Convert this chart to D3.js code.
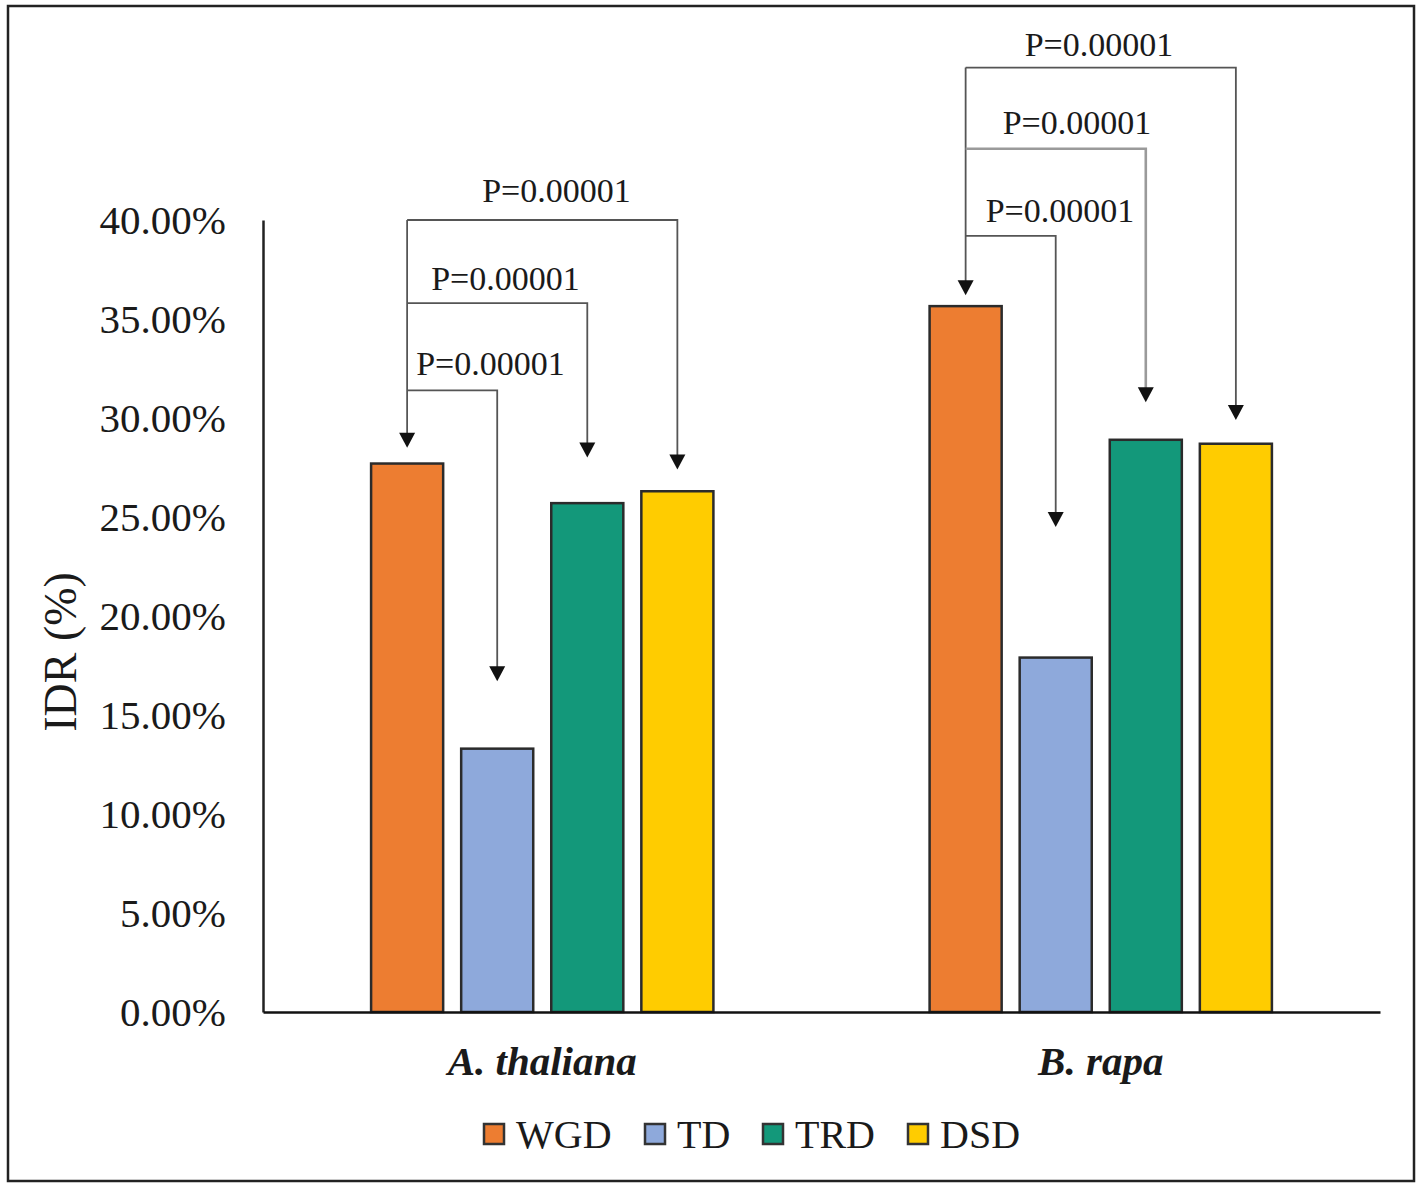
<!DOCTYPE html>
<html>
<head>
<meta charset="utf-8">
<script src="https://cdn.jsdelivr.net/npm/d3@7/dist/d3.min.js"></script>
<style>
  html, body { margin: 0; padding: 0; background: #fff; }
  svg { display: block; }
  text { font-family: "Liberation Serif", "Times New Roman", serif; fill: #1a1a1a; }
</style>
</head>
<body>
<svg id="chart" width="1421" height="1184"></svg>
<script>
// ---------- data ----------
const categories = ["A. thaliana", "B. rapa"];
const seriesNames = ["WGD", "TD", "TRD", "DSD"];
const seriesColors = ["#ED7D31", "#8EA9DB", "#13987A", "#FFCC00"];
const valuesWGD = [27.7, 35.65];
const valuesTD  = [13.3, 17.9];
const valuesTRD = [25.7, 28.9];
const valuesDSD = [26.3, 28.7];
const yTicks = [0, 5, 10, 15, 20, 25, 30, 35, 40];
const yTickLabels = ["0.00%", "5.00%", "10.00%", "15.00%", "20.00%", "25.00%", "30.00%", "35.00%", "40.00%"];
// significance annotations (values in % units)
const pLabel = "P=0.00001";
const bracketTargets = ["TD", "TRD", "DSD"];          // compared with WGD
const bracketLevelsA = [31.4, 35.8, 40.0];
const bracketLevelsB = [39.2, 43.6, 47.7];
const arrowTipsA = [28.5, 16.7, 28.0, 27.4];           // WGD, TD, TRD, DSD
const arrowTipsB = [36.2, 24.5, 30.8, 29.9];
const labelOffsetsA = [9, 24, 75];                      // label start offset from WGD line (px)
const labelOffsetsB = [20, 37, 59];
const labelRaiseA = [15, 13, 18];                       // label baseline above bracket (px)
const labelRaiseB = [14, 15, 12];

const seriesValues = [valuesWGD, valuesTD, valuesTRD, valuesDSD];
const bracketLevels = [bracketLevelsA, bracketLevelsB];
const arrowTips = [arrowTipsA, arrowTipsB];
const labelOffsets = [labelOffsetsA, labelOffsetsB];
const labelRaise = [labelRaiseA, labelRaiseB];

// ---------- layout ----------
const svg = d3.select("#chart");
const plot = { left: 263, right: 1380, top: 220, bottom: 1012 };

// outer border
svg.append("rect").attr("x", 8).attr("y", 6).attr("width", 1406).attr("height", 1175)
  .attr("fill", "none").attr("stroke", "#222").attr("stroke-width", 2.5);

const x0 = d3.scaleBand().domain(categories).range([plot.left, plot.right]).padding(0);
const x1 = d3.scaleBand().domain(seriesNames).range([0, x0.bandwidth()])
  .paddingInner(0.2).paddingOuter(1.2);
const y = d3.scaleLinear().domain([0, 40]).range([plot.bottom, plot.top]);
const color = d3.scaleOrdinal().domain(seriesNames).range(seriesColors);

// y axis
const yAxis = d3.axisLeft(y).tickValues(yTicks)
  .tickFormat((d, i) => yTickLabels[i]).tickSize(0).tickPadding(37);
const gy = svg.append("g").attr("transform", `translate(${plot.left},0)`).call(yAxis);
gy.select(".domain").attr("stroke", "#222").attr("stroke-width", 2.5);
gy.selectAll("text").style("font-family", "Liberation Serif").style("font-size", "41px")
  .attr("fill", "#1a1a1a").attr("dy", "0.33em");

// bars
const flat = [];
categories.forEach((c, ci) => seriesNames.forEach((s, si) =>
  flat.push({ cat: c, ci, series: s, si, value: seriesValues[si][ci] })));

svg.append("g").selectAll("rect").data(flat).join("rect")
  .attr("x", d => x0(d.cat) + x1(d.series))
  .attr("y", d => y(d.value))
  .attr("width", x1.bandwidth())
  .attr("height", d => y(0) - y(d.value))
  .attr("fill", d => color(d.series))
  .attr("stroke", "#2b2b2b").attr("stroke-width", 2.5);

// x axis
const xAxis = d3.axisBottom(x0).tickSize(0).tickPadding(34);
const gx = svg.append("g").attr("transform", `translate(0,${plot.bottom})`).call(xAxis);
gx.select(".domain").attr("stroke", "#111").attr("stroke-width", 2.5);
gx.selectAll("text").style("font-family", "Liberation Serif").style("font-size", "41px")
  .style("font-weight", "bold").style("font-style", "italic").attr("fill", "#1a1a1a")
  .attr("dy", "0.7em");

// y axis title
svg.append("text")
  .attr("transform", `translate(76,652) rotate(-90)`)
  .attr("text-anchor", "middle")
  .style("font-size", "46px")
  .text("IDR (%)");

// significance brackets
const ann = svg.append("g");
const cx = (cat, s) => x0(cat) + x1(s) + x1.bandwidth() / 2;
const arrowH = 15, arrowW = 16;
function arrowHead(xp, tipVal) {
  const ty = y(tipVal);
  ann.append("path")
    .attr("d", `M${xp - arrowW / 2},${ty - arrowH} L${xp + arrowW / 2},${ty - arrowH} L${xp},${ty} Z`)
    .attr("fill", "#111");
}
categories.forEach((c, ci) => {
  const xW = cx(c, "WGD");
  const levels = bracketLevels[ci];
  const tips = arrowTips[ci];
  // shared vertical from WGD
  ann.append("line").attr("x1", xW).attr("x2", xW)
    .attr("y1", y(d3.max(levels))).attr("y2", y(tips[0]) - arrowH + 1)
    .attr("stroke", "#555").attr("stroke-width", 1.8);
  arrowHead(xW, tips[0]);
  bracketTargets.forEach((t, k) => {
    const xt = cx(c, t);
    const ly = y(levels[k]);
    const si = seriesNames.indexOf(t);
    const stroke = (ci === 1 && k === 1) ? "#9a9a9a" : "#555";
    const sw = (ci === 1 && k === 1) ? 2.6 : 1.8;
    ann.append("path")
      .attr("d", `M${xW},${ly} L${xt},${ly} L${xt},${y(tips[si]) - arrowH + 1}`)
      .attr("fill", "none").attr("stroke", stroke).attr("stroke-width", sw);
    arrowHead(xt, tips[si]);
    ann.append("text")
      .attr("x", xW + labelOffsets[ci][k])
      .attr("y", ly - labelRaise[ci][k])
      .style("font-size", "34px")
      .attr("fill", "#222")
      .text(pLabel);
  });
});

// legend
const legend = svg.append("g").attr("transform", "translate(484,1148)");
const legendX = [0, 161, 279, 424];
seriesNames.forEach((s, i) => {
  const g = legend.append("g").attr("transform", `translate(${legendX[i]},0)`);
  g.append("rect").attr("x", 0).attr("y", -24).attr("width", 20).attr("height", 20)
    .attr("fill", color(s)).attr("stroke", "#333").attr("stroke-width", 2.5);
  g.append("text").attr("x", 32).attr("y", 0).style("font-size", "40px").text(s);
});
</script>
</body>
</html>
